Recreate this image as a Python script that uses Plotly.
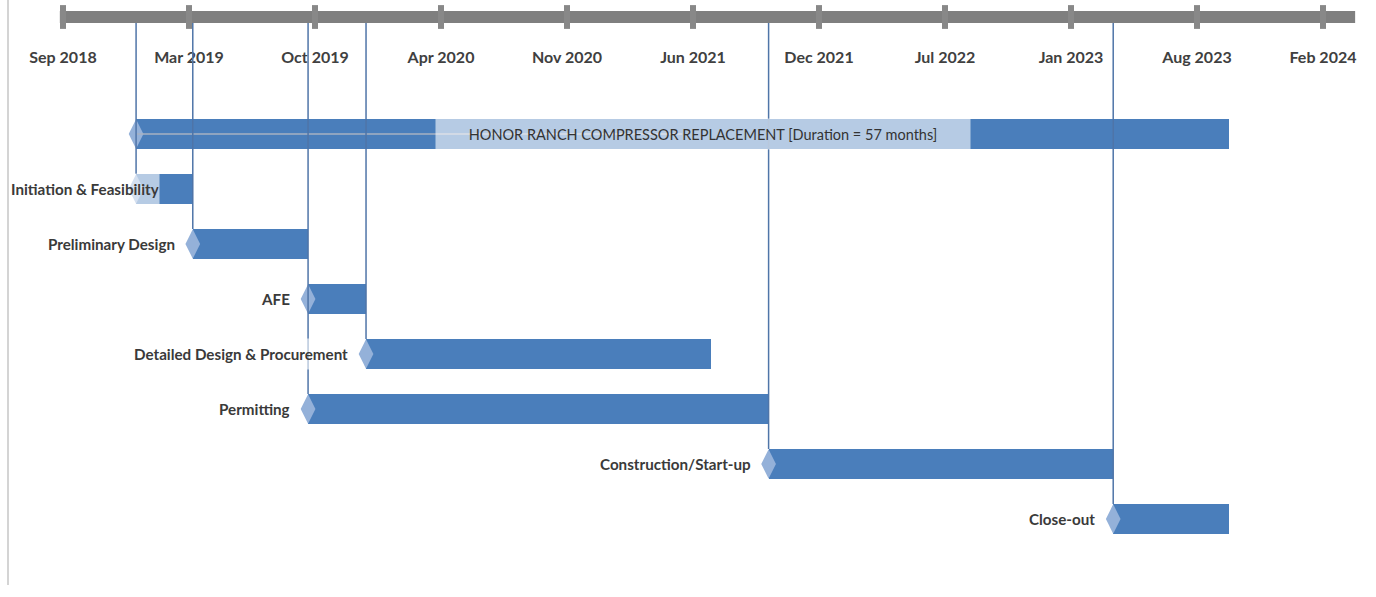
import plotly.graph_objects as go
import pandas as pd

# ---------------- data ----------------
PROJECT = "HONOR RANCH COMPRESSOR REPLACEMENT [Duration = 57 months]"
PROJECT_START = "2019-01-01"
PROJECT_END = "2023-10-01"

TASKS = ["Initiation & Feasibility", "Preliminary Design", "AFE",
         "Detailed Design & Procurement", "Permitting",
         "Construction/Start-up", "Close-out"]
TASK_START = ["2019-01-01", "2019-04-01", "2019-10-01", "2020-01-01",
              "2019-10-01", "2021-10-01", "2023-04-01"]
TASK_END = ["2019-04-01", "2019-10-01", "2020-01-01", "2021-07-01",
            "2021-10-01", "2023-04-01", "2023-10-01"]

TICK0 = "2018-09-07"      # first axis tick (Sep 2018)
TICK_STEP_DAYS = 200      # axis major unit
N_TICKS = 11

# ---------------- layout constants ----------------
W, H = 1376, 597
PX_PER_DAY = 0.63
FIRST_TICK_PX = 63
ROW_PX = 55
TOP_ROW_PX = 134
AXIS_PX = 17
BAR_W = 30 / ROW_PX

BLUE = "#4a7ebb"
DIAMOND = "#94b1d9"
GREY = "#7f7f7f"
LEADER = "#4f75a8"
TXT = "#3a3a3a"
FONT = "Lato, Roboto, sans-serif"

DAY = pd.Timedelta(days=1)
t0 = pd.Timestamp(TICK0)
x_start = t0 - DAY * (FIRST_TICK_PX / PX_PER_DAY)
x_end = x_start + DAY * (W / PX_PER_DAY)

y_min = -TOP_ROW_PX / ROW_PX
y_max = y_min + H / ROW_PX
axis_y = y_min + AXIS_PX / ROW_PX

starts = [PROJECT_START] + TASK_START
ends = [PROJECT_END] + TASK_END
rows = list(range(len(starts)))
durations = [(pd.Timestamp(e) - pd.Timestamp(s)).total_seconds() * 1000
             for s, e in zip(starts, ends)]

fig = go.Figure()

# bars
fig.add_trace(go.Bar(
    orientation="h", y=rows, x=durations, base=starts, width=BAR_W,
    marker=dict(color=BLUE, line=dict(width=0)), hoverinfo="skip",
    showlegend=False))

# start diamonds
fig.add_trace(go.Scatter(
    x=starts, y=rows, mode="markers",
    marker=dict(symbol="diamond-tall", size=21, color=DIAMOND,
                line=dict(width=0)),
    hoverinfo="skip", showlegend=False))

# axis tick bumps
tick_dates = [t0 + DAY * TICK_STEP_DAYS * k for k in range(N_TICKS)]
fig.add_trace(go.Scatter(
    x=tick_dates, y=[axis_y] * N_TICKS, mode="markers",
    marker=dict(symbol="line-ns", size=17, line=dict(width=6, color="#888888")),
    hoverinfo="skip", showlegend=False))

shapes = []
# timeline axis bar
shapes.append(dict(type="line", xref="x", yref="y", layer="below",
                   x0=t0 - DAY * 5, x1=tick_dates[-1] + DAY * 51,
                   y0=axis_y, y1=axis_y, line=dict(color=GREY, width=12)))

# thin grey line inside project bar
mid = pd.Timestamp(PROJECT_START) + (pd.Timestamp(PROJECT_END) - pd.Timestamp(PROJECT_START)) / 2
shapes.append(dict(type="line", xref="x", yref="y", layer="above",
                   x0=PROJECT_START, x1=mid, y0=0, y1=0,
                   line=dict(color="#a7b2c2", width=1.5)))

# leader lines from axis to each start date (deepest row)
deepest = {}
for s, r in zip(starts, rows):
    deepest[s] = max(deepest.get(s, 0), r)
for s, r in deepest.items():
    shapes.append(dict(type="line", xref="x", yref="y", layer="above",
                       x0=s, x1=s, y0=axis_y + 6 / ROW_PX, y1=r - BAR_W / 2,
                       line=dict(color=LEADER, width=1.5)))

# left border
shapes.append(dict(type="line", xref="paper", yref="paper",
                   x0=8 / W, x1=8 / W, y0=1, y1=12 / H,
                   line=dict(color="#d4d4d4", width=2)))

annotations = []
# project label
annotations.append(dict(
    x=mid, y=0, xref="x", yref="y", text=PROJECT, showarrow=False,
    xshift=21, width=534, height=30, bgcolor="rgba(255,255,255,0.6)",
    borderpad=0, font=dict(family=FONT, size=14.5, color="#333333")))

# task labels
for i, (name, s) in enumerate(zip(TASKS, TASK_START)):
    r = i + 1
    shift = 24 if i == 0 else -17
    annotations.append(dict(
        x=s, y=r, xref="x", yref="y", text=name, showarrow=False,
        xanchor="right", xshift=shift, height=30,
        bgcolor="rgba(255,255,255,0.6)", borderpad=0,
        font=dict(family=FONT, size=15.2, color=TXT, weight="bold")))

fig.update_layout(
    width=W, height=H, margin=dict(l=0, r=0, t=0, b=0),
    paper_bgcolor="white", plot_bgcolor="white",
    bargap=0, shapes=shapes, annotations=annotations,
    xaxis=dict(type="date", range=[x_start, x_end], side="top",
               tick0=TICK0, dtick=TICK_STEP_DAYS * 86400000,
               tickformat="%b %Y", ticklabelposition="inside",
               ticklabelstandoff=49, ticks="", showgrid=False,
               zeroline=False, showline=False,
               tickfont=dict(family=FONT, size=16, color="#404040",
                             weight="bold")),
    yaxis=dict(range=[y_max, y_min], visible=False, showgrid=False,
               zeroline=False),
)

fig.write_html("out.html")
